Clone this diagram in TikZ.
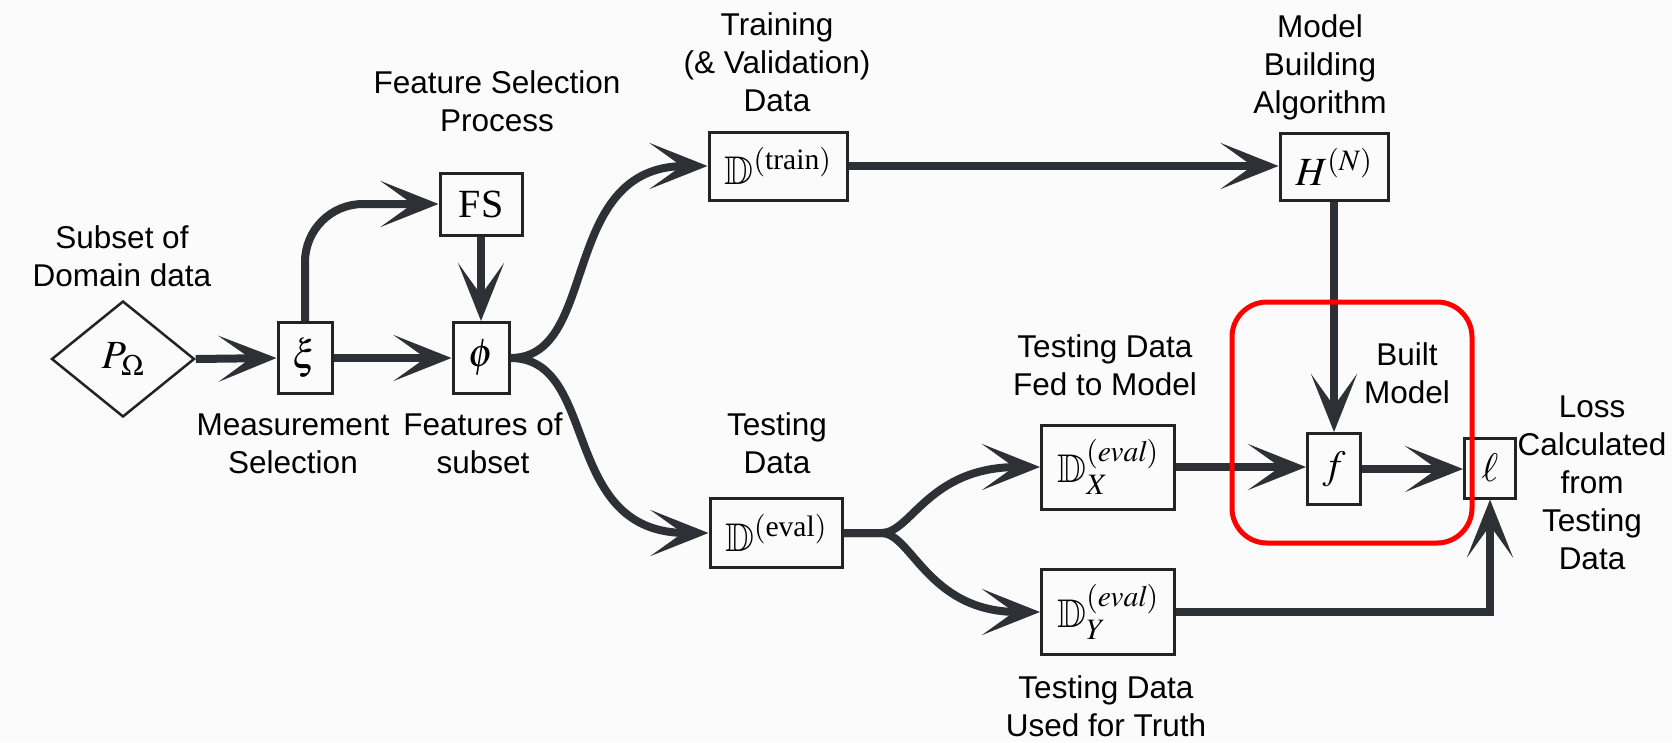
\documentclass[tikz,border=0pt]{standalone}
\usepackage{mathptmx}
\usepackage{amsmath}
\usepackage{amssymb}
\usepackage[no-math]{fontspec}
\setmainfont{Liberation Sans}
\newfontfamily\serifb{Liberation Serif}
\usetikzlibrary{arrows.meta,shapes.geometric}
\definecolor{arrc}{RGB}{45,48,52}
\definecolor{boxc}{RGB}{35,35,35}
\definecolor{bgc}{RGB}{251,251,251}
\newcommand\lblfont{\fontsize{31.5}{38}\selectfont}
\newcommand\mfont{\fontsize{40}{46}\selectfont}
\newcommand\mlines[1]{\begin{tabular}[t]{@{}c@{}}#1\end{tabular}}
\tikzset{
  boxn/.style={draw=boxc, line width=3pt, rectangle, inner sep=0pt, font=\mfont},
  arr/.style={draw=arrc, line width=8pt, -{Stealth[length=58pt,width=46pt,inset=32pt]}},
  lbl/.style={anchor=base, inner sep=0pt, font=\lblfont},
  redbox/.style={draw=red, line width=5pt, rounded corners=35pt}
}
\begin{document}
\begin{tikzpicture}[x=1pt,y=-1pt]
\useasboundingbox (0,0) rectangle (1672,742);
\fill[bgc] (0,0) rectangle (1672,742);

% nodes
\node[draw=boxc, line width=2.5pt, diamond, aspect=1.2, minimum width=143pt, minimum height=116pt, inner sep=0pt, font=\mfont] (pom) at (123,359) {$P_\Omega$};
\node[boxn, minimum width=54pt, minimum height=71pt] (xi) at (305,358) {$\xi$};
\node[boxn, minimum width=82pt, minimum height=62pt] (fs) at (481,204) {\serifb FS};
\node[boxn, minimum width=56pt, minimum height=71pt] (phi) at (481,358) {$\phi$};
\node[boxn, minimum width=138pt, minimum height=68pt] (dtrain) at (778,166) {$\mathbb{D}^{(\text{\serifb train})}$};
\node[boxn, minimum width=108pt, minimum height=67pt] (H) at (1334,167) {$H^{(N)}$};
\node[boxn, minimum width=132pt, minimum height=69pt] (deval) at (776,533) {$\mathbb{D}^{(\text{\serifb eval})}$};
\node[boxn, minimum width=133pt, minimum height=84pt] (dx) at (1108,467) {$\mathbb{D}_X^{(\mathit{eval})}$};
\node[boxn, minimum width=133pt, minimum height=85pt] (dy) at (1108,612) {$\mathbb{D}_Y^{(\mathit{eval})}$};
\node[boxn, minimum width=53pt, minimum height=71pt] (f) at (1334,469) {$f$};
\node[boxn, minimum width=51pt, minimum height=60pt] (ell) at (1490,468) {$\ell$};

% connectors
\draw[arr] (pom.east) -- (xi.west);
\draw[arr, rounded corners=58pt] (xi.north) |- (fs.west);
\draw[arr] (xi.east) -- (phi.west);
\draw[arr] (fs.south) -- (phi.north);
\draw[arr] (phi.east) .. controls +(90,0) and +(-150,0) .. (dtrain.west);
\draw[arr] (phi.east) .. controls +(90,0) and +(-150,0) .. (deval.west);
\draw[arr] (dtrain.east) -- (dtrain.east -| H.west);
\draw[arr] (H.south) -- (f.north);
\draw[arr] (deval.east) -- ++(38,0) .. controls +(30,0) and +(-112,0) .. (dx.west);
\draw[arr] (deval.east) -- ++(38,0) .. controls +(30,0) and +(-112,0) .. (dy.west);
\draw[arr] (dx.east) -- (dx.east -| f.west);
\draw[arr] (f.east) -- (f.east -| ell.west);
\draw[arr] (dy.east) -| (ell.south);

% labels
\node[lbl] (l1) at (122,248) {\mlines{Subset of\\Domain data}};
\node[lbl] (l2) at (497,93) {\mlines{Feature Selection\\Process}};
\node[lbl] (l3) at (777,35) {\mlines{Training\\(\& Validation)\\Data}};
\node[lbl] (l4) at (1320,37) {\mlines{Model\\Building\\Algorithm}};
\node[lbl] (l5) at (293,435) {\mlines{Measurement\\Selection}};
\node[lbl] (l6) at (483,435) {\mlines{Features of\\subset}};
\node[lbl] (l7) at (777,435) {\mlines{Testing\\Data}};
\node[lbl] (l8) at (1105,357) {\mlines{Testing Data\\Fed to Model}};
\node[lbl] (l9) at (1407,365) {\mlines{Built\\Model}};
\node[lbl] (l10) at (1592,417) {\mlines{Loss\\Calculated\\from\\Testing\\Data}};
\node[lbl] (l11) at (1106,698) {\mlines{Testing Data\\Used for Truth}};

% highlight
\draw[redbox] (1232,302) rectangle (1472,543);
\end{tikzpicture}
\end{document}
